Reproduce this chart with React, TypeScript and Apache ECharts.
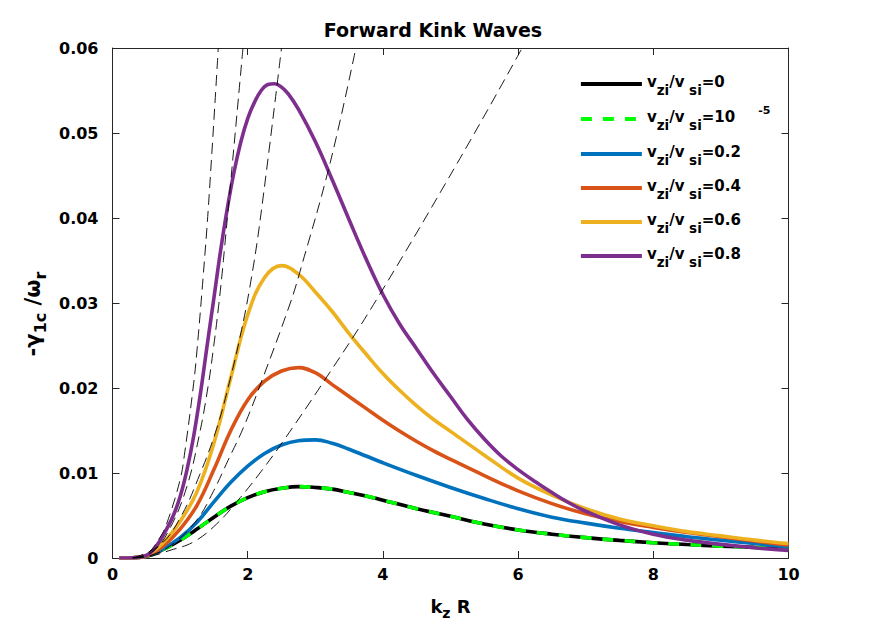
import React, { useEffect, useRef } from 'react';
import * as echarts from 'echarts';

// ---------- data ----------
const xTicks = [0, 2, 4, 6, 8, 10];
const yTicks = [0, 0.01, 0.02, 0.03, 0.04, 0.05, 0.06];

const seriesNames = [
  'vzi/vsi=0',
  'vzi/vsi=10-5',
  'vzi/vsi=0.2',
  'vzi/vsi=0.4',
  'vzi/vsi=0.6',
  'vzi/vsi=0.8',
];
const legendValues = ['0', '10', '0.2', '0.4', '0.6', '0.8'];

// v_zi/v_si = 0  ([k_z R, -gamma/omega])
const curve00: number[][] = [
  [0.1, 0], [0.3, 0.00003], [0.5, 0.0002], [0.75, 0.001], [1.0, 0.0021], [1.25, 0.0034],
  [1.5, 0.0048], [1.75, 0.0061], [2.0, 0.0071], [2.25, 0.0078], [2.5, 0.0082], [2.75, 0.0084],
  [3.0, 0.0083], [3.25, 0.0081], [3.5, 0.0077], [3.75, 0.0073], [4.0, 0.0068], [4.5, 0.0058],
  [5.0, 0.0049], [5.5, 0.004], [6.0, 0.0033], [6.5, 0.0028], [7.0, 0.0024], [7.5, 0.00207],
  [8.0, 0.0018], [8.5, 0.00158], [9.0, 0.0014], [9.5, 0.00125], [10, 0.00112],
];
// v_zi/v_si = 1e-5 (coincides with 0)
const curve1e5: number[][] = [
  [0.1, 0], [0.3, 0.00003], [0.5, 0.0002], [0.75, 0.001], [1.0, 0.0021], [1.25, 0.0034],
  [1.5, 0.0048], [1.75, 0.0061], [2.0, 0.0071], [2.25, 0.0078], [2.5, 0.0082], [2.75, 0.0084],
  [3.0, 0.0083], [3.25, 0.0081], [3.5, 0.0077], [3.75, 0.0073], [4.0, 0.0068], [4.5, 0.0058],
  [5.0, 0.0049], [5.5, 0.004], [6.0, 0.0033], [6.5, 0.0028], [7.0, 0.0024], [7.5, 0.00207],
  [8.0, 0.0018], [8.5, 0.00158], [9.0, 0.0014], [9.5, 0.00125], [10, 0.00112],
];
const curve02: number[][] = [
  [0.1, 0], [0.3, 0.00003], [0.5, 0.0002], [0.75, 0.0011], [1.0, 0.0024], [1.25, 0.0042],
  [1.5, 0.0066], [1.75, 0.0089], [2.0, 0.0108], [2.25, 0.0123], [2.5, 0.0133], [2.75, 0.0138],
  [3.0, 0.0139], [3.25, 0.0135], [3.5, 0.0128], [3.75, 0.012], [4.0, 0.0112], [4.5, 0.0097],
  [5.0, 0.0083], [5.5, 0.007], [6.0, 0.0058], [6.5, 0.0048], [7.0, 0.0041], [7.5, 0.0035],
  [8.0, 0.003], [8.5, 0.0025], [9.0, 0.0021], [9.5, 0.0017], [10, 0.0013],
];
const curve04: number[][] = [
  [0.1, 0], [0.3, 0.00003], [0.5, 0.0002], [0.75, 0.0014], [1.0, 0.0034], [1.25, 0.0062],
  [1.5, 0.0104], [1.75, 0.015], [2.0, 0.0186], [2.25, 0.0208], [2.5, 0.022], [2.75, 0.0224],
  [3.0, 0.0218], [3.25, 0.0204], [3.5, 0.019], [3.75, 0.0176], [4.0, 0.0162], [4.25, 0.0149],
  [4.5, 0.0137], [4.75, 0.0126], [5.0, 0.0116], [5.5, 0.0097], [6.0, 0.0079], [6.5, 0.0064],
  [7.0, 0.0052], [7.5, 0.0043], [8.0, 0.0036], [8.5, 0.003], [9.0, 0.0025], [9.5, 0.002],
  [10, 0.0015],
];
const curve06: number[][] = [
  [0.1, 0], [0.3, 0.00003], [0.5, 0.0003], [0.75, 0.0018], [1.0, 0.0043], [1.25, 0.0078],
  [1.5, 0.0135], [1.75, 0.0212], [2.0, 0.0286], [2.25, 0.033], [2.5, 0.0344], [2.75, 0.0334],
  [3.0, 0.0313], [3.25, 0.029], [3.5, 0.0264], [3.75, 0.024], [4.0, 0.0217], [4.25, 0.0197],
  [4.5, 0.0179], [4.75, 0.0163], [5.0, 0.0149], [5.5, 0.0121], [6.0, 0.0094], [6.5, 0.0074],
  [7.0, 0.0058], [7.5, 0.0046], [8.0, 0.0038], [8.5, 0.0031], [9.0, 0.0026], [9.5, 0.0021],
  [10, 0.0017],
];
const curve08: number[][] = [
  [0.1, 0], [0.3, 0.00003], [0.5, 0.0003], [0.6, 0.0009], [0.7, 0.002], [0.8, 0.0034],
  [0.9, 0.005], [1.0, 0.0072], [1.1, 0.0103], [1.2, 0.0143], [1.3, 0.0193], [1.4, 0.025],
  [1.5, 0.0306], [1.6, 0.0362], [1.7, 0.0412], [1.8, 0.0455], [1.9, 0.049], [2.0, 0.0517],
  [2.1, 0.0536], [2.2, 0.055], [2.3, 0.0557], [2.4, 0.0558], [2.5, 0.0554], [2.6, 0.0546],
  [2.75, 0.0528], [3.0, 0.049], [3.25, 0.0445], [3.5, 0.0398], [3.75, 0.0352], [4.0, 0.031],
  [4.25, 0.0275], [4.5, 0.0246], [4.75, 0.0217], [5.0, 0.019], [5.25, 0.0163], [5.5, 0.014],
  [5.75, 0.012], [6.0, 0.0104], [6.25, 0.009], [6.5, 0.0077], [6.75, 0.0065], [7.0, 0.0055],
  [7.5, 0.0039], [8.0, 0.0028], [8.5, 0.0021], [9.0, 0.0016], [9.5, 0.0012], [10, 0.0009],
];

// small-k approximations (thin black dashed)
const approx00: number[][] = [
  [0.3, 0], [0.5, 0.0001], [0.85, 0.0009], [1.2, 0.0019], [1.54, 0.004], [1.89, 0.0071],
  [2.2, 0.0102], [2.53, 0.0138], [3.12, 0.0207], [3.86, 0.0298], [5.14, 0.047], [6.06, 0.06],
];
const approx02: number[][] = [
  [0.3, 0], [0.6, 0.0004], [0.9, 0.0017], [1.25, 0.0045], [1.49, 0.0078], [1.71, 0.0115],
  [1.94, 0.0154], [2.23, 0.0213], [2.63, 0.03], [2.77, 0.0336], [3.22, 0.0465], [3.6, 0.06],
];
const approx04: number[][] = [
  [0.3, 0], [0.7, 0.0015], [1.0, 0.0047], [1.29, 0.0098], [1.54, 0.0152], [1.74, 0.021],
  [1.9, 0.0265], [2.03, 0.0318], [2.18, 0.0395], [2.5, 0.06],
];
const approx06: number[][] = [
  [0.3, 0], [0.6, 0.0008], [0.85, 0.0035], [1.1, 0.0084], [1.29, 0.0147], [1.42, 0.0205],
  [1.49, 0.0245], [1.565, 0.0293], [1.64, 0.035], [1.93, 0.06],
];
const approx08: number[][] = [
  [0.3, 0], [0.5, 0.0004], [0.7, 0.0024], [0.8, 0.004], [1.0, 0.0092], [1.07, 0.0125],
  [1.2, 0.0205], [1.245, 0.024], [1.34, 0.033], [1.42, 0.0415], [1.565, 0.06],
];

const curves = [curve00, curve1e5, curve02, curve04, curve06, curve08];
const approximations = [approx00, approx02, approx04, approx06, approx08];

// ---------- styles ----------
const FONT = '"DejaVu Sans", "Liberation Sans", sans-serif';
const colors = ['#000000', '#00FF00', '#0072BD', '#D95319', '#EDB120', '#7E2F8E'];
const AXIS_COLOR = '#262626';

export default function App() {
  const ref = useRef<HTMLDivElement>(null);

  useEffect(() => {
    if (!ref.current) return;
    const chart = echarts.init(ref.current, undefined, { renderer: 'svg' });

    const labelMap: Record<string, string> = {};
    seriesNames.forEach((n, i) => {
      const val = legendValues[i];
      labelMap[n] =
        i === 1
          ? `{m|v}{s|zi}{m|/v}{s| si}{m|=${val}}{p|      -5}`
          : `{m|v}{s|zi}{m|/v}{s| si}{m|=${val}}`;
    });

    const mainSeries = curves.map((data, i) => ({
      name: seriesNames[i],
      type: 'line',
      data,
      showSymbol: false,
      symbol: 'none',
      smooth: 0.4,
      lineStyle: {
        color: colors[i],
        width: 3.6,
        type: i === 1 ? [11, 11] : 'solid',
        cap: 'butt',
      },
      itemStyle: { color: colors[i] },
      z: 2 + i,
      silent: true,
    }));

    const approxSeries = approximations.map((data, i) => ({
      name: 'approx' + i,
      type: 'line',
      data,
      showSymbol: false,
      symbol: 'none',
      smooth: 0.4,
      lineStyle: { color: '#000', width: 0.9, type: [11, 6] },
      z: 10,
      silent: true,
    }));

    const axisCommon = {
      type: 'value' as const,
      axisLine: { show: true, onZero: false, lineStyle: { color: AXIS_COLOR, width: 1 } },
      axisTick: { show: true, inside: true, length: 7, lineStyle: { color: AXIS_COLOR, width: 1 } },
      splitLine: { show: false },
    };
    const labelStyle = {
      fontFamily: FONT,
      fontWeight: 'bold' as const,
      fontSize: 16,
      color: '#000',
    };

    chart.setOption({
      animation: false,
      backgroundColor: '#fff',
      grid: { left: 112.5, right: 83.5, top: 48, bottom: 74, containLabel: false },
      graphic: [
        {
          type: 'text',
          x: 433,
          y: 30,
          style: {
            text: 'Forward Kink Waves',
            fontFamily: FONT,
            fontWeight: 'bold',
            fontSize: 19,
            fill: '#000',
            align: 'center',
            verticalAlign: 'middle',
            textAlign: 'center',
            textVerticalAlign: 'middle',
          },
        },
      ],
      legend: {
        data: seriesNames,
        orient: 'vertical',
        left: 579,
        top: 71,
        padding: 0,
        itemGap: 8,
        itemWidth: 61,
        itemHeight: 4,
        selectedMode: false,
        itemStyle: { opacity: 0 },
        lineStyle: { width: 3.8 },
        formatter: (name: string) => labelMap[name] || name,
        textStyle: {
          fontFamily: FONT,
          fontWeight: 'bold',
          fontSize: 15,
          color: '#000',
          lineHeight: 22,
          rich: {
            m: { fontFamily: FONT, fontWeight: 'bold', fontSize: 15, color: '#000', lineHeight: 22, padding: [0, 0, 4, 0] },
            s: { fontFamily: FONT, fontWeight: 'bold', fontSize: 13.5, color: '#000', lineHeight: 22, padding: [12, 0, 0, 0] },
            p: { fontFamily: FONT, fontWeight: 'bold', fontSize: 11, color: '#000', lineHeight: 22, padding: [0, 0, 17, 0] },
          },
        },
      },
      xAxis: [
        {
          ...axisCommon,
          position: 'bottom',
          min: 0,
          max: 10,
          interval: 2,
          axisLabel: { ...labelStyle, margin: 8, formatter: (v: number) => String(v) },
          name: '{m|k}{s|z}{m| R}',
          nameLocation: 'middle',
          nameGap: 36,
          nameTextStyle: {
            rich: {
              m: { fontFamily: FONT, fontWeight: 'bold', fontSize: 18, color: '#000', lineHeight: 24 },
              s: { fontFamily: FONT, fontWeight: 'bold', fontSize: 14, color: '#000', lineHeight: 24, padding: [14, 0, 0, 0] },
            },
          },
        },
        {
          ...axisCommon,
          position: 'top',
          min: 0,
          max: 10,
          interval: 2,
          axisLabel: { show: false },
        },
      ],
      yAxis: [
        {
          ...axisCommon,
          position: 'left',
          min: 0,
          max: 0.06,
          interval: 0.01,
          axisLabel: {
            ...labelStyle,
            margin: 14,
            formatter: (v: number) => (Math.abs(v) < 1e-9 ? '0' : v.toFixed(2)),
          },
          name: '{m|-γ}{s|1c}{m| /ω}{s|r}',
          nameLocation: 'middle',
          nameRotate: 90,
          nameGap: 58,
          nameTextStyle: {
            padding: [0, 22, 0, 0],
            rich: {
              m: { fontFamily: FONT, fontWeight: 'bold', fontSize: 21, color: '#000', lineHeight: 26 },
              s: { fontFamily: FONT, fontWeight: 'bold', fontSize: 16, color: '#000', lineHeight: 26, padding: [14, 0, 0, 0] },
            },
          },
        },
        {
          ...axisCommon,
          position: 'right',
          min: 0,
          max: 0.06,
          interval: 0.01,
          axisLabel: { show: false },
        },
      ],
      series: [...mainSeries, ...approxSeries],
    });

    return () => {
      chart.dispose();
    };
  }, []);

  return (
    <div
      ref={ref}
      style={{ position: 'fixed', left: 0, top: 0, width: 872, height: 632, background: '#fff' }}
    />
  );
}
